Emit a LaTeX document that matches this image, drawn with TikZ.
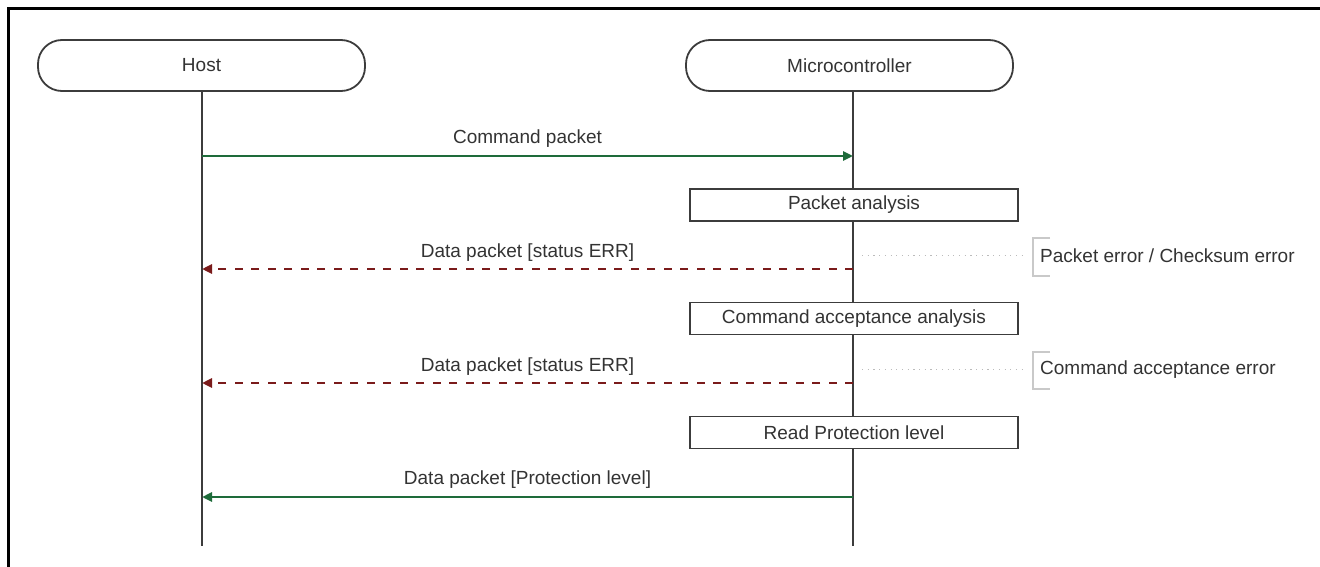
\documentclass[tikz,border=0pt]{standalone}
\usepackage{fontspec}
\setmainfont{Liberation Sans}
\usetikzlibrary{arrows.meta}
\definecolor{okgreen}{HTML}{1E6B3A}
\definecolor{errred}{HTML}{7A1B1B}
\definecolor{ink}{HTML}{333333}
\definecolor{frameline}{HTML}{3C3C3C}
\definecolor{faint}{HTML}{BBBBBB}
\tikzset{
  txt/.style={font=\fontsize{19}{22}\selectfont, text=ink, inner sep=0pt},
  actor/.style={draw=frameline, line width=1.8pt, rounded corners=24pt,
    minimum width=327pt, minimum height=51pt, txt},
  stepbox/.style={draw=frameline, line width=1.9pt, minimum width=328pt,
    minimum height=32pt, fill=white, txt},
  lifeline/.style={draw=frameline, line width=1.6pt},
  okmsg/.style={draw=okgreen, line width=2.8pt,
    -{Triangle[length=10pt,width=9pt]}},
  errmsg/.style={draw=errred, line width=2.8pt, dash pattern=on 8pt off 8.5pt,
    -{Triangle[length=10pt,width=9pt]}},
  guide/.style={draw=faint, line width=1pt, dash pattern=on 1.2pt off 4.5pt},
  bracket/.style={draw=faint!80, line width=1.5pt},
  note/.style={txt, anchor=west},
  msglabel/.style={txt}
}
\begin{document}
\begin{tikzpicture}[x=1pt,y=-1pt]
\useasboundingbox (0,0) rectangle (1320,567);
% frame
\draw[black, line width=3pt] (8.5,567) -- (8.5,8.5) -- (1320,8.5);

% actors
\node[actor] (host) at (201.5,65.5) {Host};
\node[actor] (mcu) at (849.5,65.5) {Microcontroller};

% lifeline coordinates
\coordinate (htop) at (202,91);
\coordinate (hbot) at (202,546);
\coordinate (mtop) at (853,91);
\coordinate (mbot) at (853,546);
\draw[lifeline] (htop) -- (hbot);
\draw[lifeline] (mtop) -- (mbot);

% message anchor points
\coordinate (h1) at (202,156);
\coordinate (m1) at (853,156);
\coordinate (h2) at (202,269);
\coordinate (m2) at (853,269);
\coordinate (h3) at (202,383);
\coordinate (m3) at (853,383);
\coordinate (h4) at (202,497);
\coordinate (m4) at (853,497);

% processing boxes
\node[stepbox] (pa) at (854,205) {Packet analysis};
\node[stepbox] (caa) at (854,318.5) {Command acceptance analysis};
\node[stepbox] (rpl) at (854,432.5) {Read Protection level};

% messages
\draw[okmsg] (h1) -- (m1);
\node[msglabel] (l1) at (527.5,139) {Command packet};
\draw[errmsg] (m2) -- (h2);
\node[msglabel] (l2) at (527.5,252.5) {Data packet [status ERR]};
\draw[errmsg] (m3) -- (h3);
\node[msglabel] (l3) at (527.5,366.5) {Data packet [status ERR]};
\draw[okmsg] (m4) -- (h4);
\node[msglabel] (l4) at (527.5,479.5) {Data packet [Protection level]};

% annotations
\coordinate (g1a) at (862,255);
\coordinate (g1b) at (1024,255);
\draw[guide] (g1a) -- (g1b);
\draw[bracket] (1050,238) -- (1033,238) -- (1033,276) -- (1050,276);
\node[note] (n1) at (1040,256) {Packet error / Checksum error};

\coordinate (g2a) at (862,369);
\coordinate (g2b) at (1024,369);
\draw[guide] (g2a) -- (g2b);
\draw[bracket] (1050,352) -- (1033,352) -- (1033,389) -- (1050,389);
\node[note] (n2) at (1040,370) {Command acceptance error};
\end{tikzpicture}
\end{document}
